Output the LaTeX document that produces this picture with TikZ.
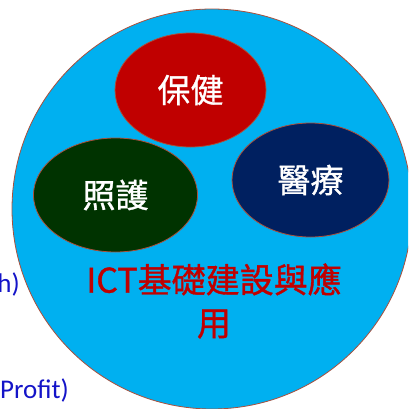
\documentclass[tikz,border=0pt]{standalone}
\usepackage{fontspec}
\usetikzlibrary{shapes.geometric}
\newfontfamily\cjk[FakeBold=1]{Noto Sans CJK TC}
\newfontfamily\latinsans{Carlito}
\definecolor{bigfill}{RGB}{0,176,240}
\definecolor{rimcol}{RGB}{170,80,60}
\definecolor{redfill}{RGB}{192,0,0}
\definecolor{greenfill}{RGB}{0,51,0}
\definecolor{navyfill}{RGB}{0,32,96}
\definecolor{redtext}{RGB}{192,0,0}
\definecolor{bluetext}{RGB}{20,20,200}
\tikzset{
  bigcircle/.style={circle, draw=rimcol, fill=bigfill, line width=0.8pt, minimum size=400pt, inner sep=0pt},
  blob/.style={ellipse, draw=rimcol, line width=0.8pt, inner sep=0pt, text=white,
     font=\cjk\fontsize{33}{40}\selectfont},
  redlabel/.style={text=redtext, align=center, inner sep=0pt, font=\cjk\fontsize{34}{43}\selectfont},
  sidelabel/.style={text=bluetext, inner sep=0pt, font=\latinsans\fontsize{27}{30}\selectfont},
}
\begin{document}
\begin{tikzpicture}[x=1pt,y=-1pt]
\useasboundingbox (0,0) rectangle (408,409);
\clip (0,0) rectangle (408,409);
\node[sidelabel, anchor=base east] (h) at (20,292) {h)};
\node[sidelabel, anchor=base east] (profit) at (69,398) {Profit)};
\node[bigcircle] (base) at (212,209) {};
\node[blob, fill=redfill, minimum width=151pt, minimum height=114pt] (baojian) at (190.5,90) {保健};
\node[blob, fill=greenfill, minimum width=164pt, minimum height=114pt] (zhaohu) at (115.5,195) {照護};
\node[blob, fill=navyfill, minimum width=157pt, minimum height=114pt] (yiliao) at (310.5,180) {醫療};
\node[redlabel] (ict) at (214,301) {ICT基礎建設與應\\用};
\end{tikzpicture}
\end{document}
